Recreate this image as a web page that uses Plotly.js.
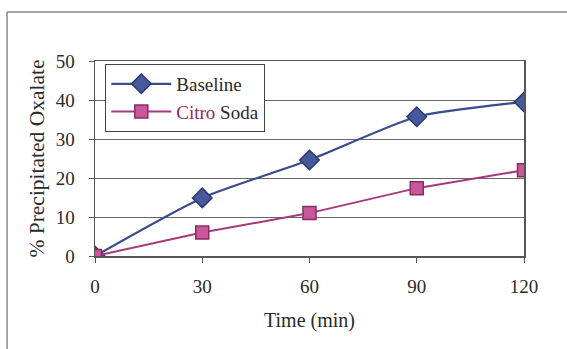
<!DOCTYPE html>
<html><head><meta charset="utf-8">
<script src="https://cdn.plot.ly/plotly-3.0.1.min.js"></script>
<style>body{margin:0;background:#fff}#c{width:567px;height:349px}</style>
</head><body><div id="c"></div>
<script>
const time = [0, 30, 60, 90, 120];
const baseline = [0, 14.9, 24.6, 35.7, 39.5];
const citroSoda = [0, 6, 11, 17.4, 22];
const xTicks = [0, 30, 60, 90, 120];
const yTicks = [0, 10, 20, 30, 40, 50];

const family = '"Liberation Serif", "Times New Roman", serif';
const font = {family: family, size: 19, color: '#2a2a2a'};
const titleFont = {family: family, size: 20, color: '#2a2a2a'};
const yTitleFont = {family: family, size: 21.5, color: '#2a2a2a'};

const traces = [
  {x: time, y: baseline, name: 'Baseline', mode: 'lines+markers', type: 'scatter',
   line: {color: '#3a4b8e', width: 2.2, shape: 'spline', smoothing: 0.6},
   marker: {symbol: 'diamond', size: 15, color: '#46599b', line: {color: '#2a3873', width: 1.5}}},
  {x: time, y: citroSoda, name: '<span style="color:#8a2c61">Citro</span> Soda', mode: 'lines+markers', type: 'scatter',
   line: {color: '#a8387d', width: 2},
   marker: {symbol: 'square', size: 13, color: '#c9579b', line: {color: '#8a2c61', width: 1.5}}}
];

const layout = {
  width: 567, height: 349,
  margin: {l: 95, r: 43, t: 61, b: 93},
  paper_bgcolor: '#fff', plot_bgcolor: '#fff',
  font: font,
  showlegend: true,
  legend: {x: 0.024, y: 0.985, xanchor: 'left', yanchor: 'top', bordercolor: '#444', borderwidth: 1,
           bgcolor: '#fff', font: font, itemwidth: 60, tracegroupgap: 0},
  xaxis: {range: [0, 120], tickvals: xTicks, ticktext: xTicks.map(String), showgrid: false, zeroline: false,
          showline: true, linecolor: '#555', linewidth: 1.5, mirror: true, ticks: 'outside', ticklen: 5, tickcolor: '#555',
          ticklabelstandoff: 8,
          title: {text: 'Time (min)', font: titleFont, standoff: 16}, tickfont: font},
  yaxis: {range: [0, 50], tickvals: yTicks, ticktext: yTicks.map(String), showgrid: true, gridcolor: '#666', gridwidth: 1,
          zeroline: false, showline: true, linecolor: '#555', linewidth: 1.5, mirror: true, ticks: 'outside', ticklen: 5, tickcolor: '#555',
          ticklabelstandoff: 10,
          title: {text: '% Precipitated Oxalate', font: yTitleFont, standoff: 5}, tickfont: font},
  shapes: [
    {type: 'line', xref: 'paper', yref: 'paper', x0: -0.205, x1: 1.2, y0: 1.251, y1: 1.251, line: {color: '#888', width: 1.5}},
    {type: 'line', xref: 'paper', yref: 'paper', x0: -0.205, x1: -0.205, y0: 1.251, y1: -0.6, line: {color: '#888', width: 1.5}}
  ]
};

Plotly.newPlot('c', traces, layout, {displayModeBar: false, staticPlot: true});
</script></body></html>
